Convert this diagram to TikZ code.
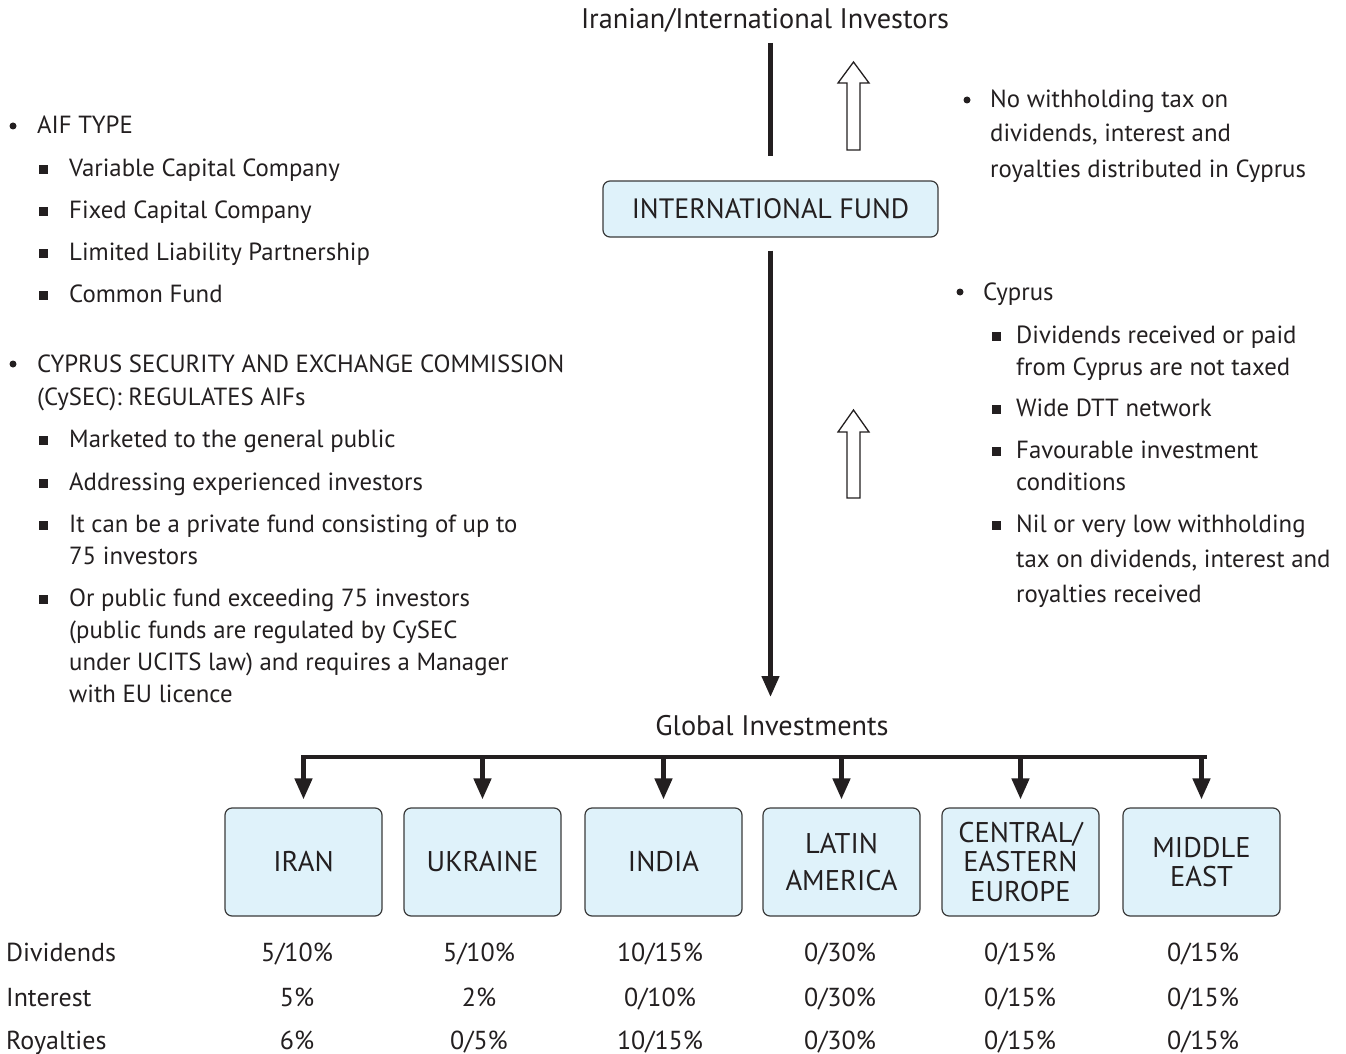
\documentclass[tikz,border=0pt]{standalone}
\usepackage{fontspec}
\setmainfont{PT Sans}
\usetikzlibrary{arrows.meta,calc}
\definecolor{ink}{HTML}{231F20}
\definecolor{boxfill}{HTML}{DFF2FA}
\definecolor{boxline}{HTML}{3A3A3A}
\tikzset{
  txt/.style={font=\fontsize{24.8}{28}\selectfont, text=ink, inner sep=0pt, anchor=base west},
  tab/.style={font=\fontsize{26}{28}\selectfont, text=ink, inner sep=0pt, anchor=base},
  tabl/.style={tab, anchor=base west},
  head/.style={font=\fontsize{28.3}{30}\selectfont, text=ink, inner sep=0pt, anchor=base},
  regbox/.style={draw=boxline, fill=boxfill, rounded corners=7pt, line width=1.2pt,
    minimum width=157pt, minimum height=108pt, align=center, inner sep=2pt,
    font=\fontsize{28.5}{29.5}\selectfont, text=ink},
  fundbox/.style={regbox, minimum width=335pt, minimum height=56pt, font=\fontsize{28}{30}\selectfont},
  thickline/.style={line width=4.5pt, draw=ink},
  hollow/.style={draw=ink, line width=1.3pt, fill=white, line join=miter},
  sq/.style={fill=ink, rectangle, minimum size=9pt, inner sep=0pt},
  dot/.style={circle, fill=ink, minimum size=7pt, inner sep=0pt},
  tip/.style={-{Triangle[width=17pt,length=21pt]}}
}
\begin{document}
\begin{tikzpicture}[x=1pt,y=-1pt]
\useasboundingbox (0,0) rectangle (1346,1054);

% top
\node[head] (inv) at (765,29) {Iranian/International Investors};
\node[fundbox] (fund) at (770.5,209) {INTERNATIONAL FUND};
\coordinate (topend) at (770.5,43);
\draw[thickline, shorten >=24pt] (topend) -- (fund.north);

\node[head] (gi) at (772,735) {Global Investments};
\draw[thickline, tip, shorten <=13pt] (fund.south) -- (fund.south |- 0,697);

% hollow arrows
\draw[hollow] (847,150) -- (847,83) -- (838,83) -- (853.5,62) -- (869,83) -- (860,83) -- (860,150) -- cycle;
\draw[hollow] (847,498) -- (847,432) -- (838,432) -- (853.5,410) -- (869,432) -- (860,432) -- (860,498) -- cycle;

% regional boxes
\node[regbox] (b1) at (303.5,862) {IRAN};
\node[regbox] (b2) at (482.5,862) {UKRAINE};
\node[regbox] (b3) at (663.5,862) {INDIA};
\node[regbox] (b4) at (841.5,862) {LATIN\\[7pt]AMERICA};
\node[regbox] (b5) at (1020.5,862) {CENTRAL/\\EASTERN\\EUROPE};
\node[regbox] (b6) at (1201.5,862) {MIDDLE\\EAST};

\coordinate (bar) at (0,757);
\draw[thickline, line cap=rect] (b1.north |- bar) -- ([xshift=3pt]b6.north |- bar);
\foreach \b in {b1,b2,b3,b4,b5,b6}{
  \draw[thickline, tip, shorten >=8pt] (\b.north |- bar) -- (\b.north);
}

% left list
\node[dot] (ld1) at (13,126) {};
\node[txt] (l1) at (37,134) {AIF TYPE};
\node[sq] (ls1) at (43,169) {};
\node[txt] (l2) at (69,176) {Variable Capital Company};
\node[sq] (ls2) at (43,211) {};
\node[txt] (l3) at (69,218) {Fixed Capital Company};
\node[sq] (ls3) at (43,253) {};
\node[txt] (l4) at (69,260) {Limited Liability Partnership};
\node[sq] (ls4) at (43,295) {};
\node[txt] (l5) at (69,302) {Common Fund};

\node[dot] (ld2) at (13,364) {};
\node[txt] (l6) at (37,372) {CYPRUS SECURITY AND EXCHANGE COMMISSION};
\node[txt] (l7) at (37,405) {(CySEC): REGULATES AIFs};
\node[sq] (ls5) at (43,440) {};
\node[txt] (l8) at (69,447) {Marketed to the general public};
\node[sq] (ls6) at (43,483) {};
\node[txt] (l9) at (69,490) {Addressing experienced investors};
\node[sq] (ls7) at (43,525) {};
\node[txt] (l10) at (69,532) {It can be a private fund consisting of up to};
\node[txt] (l11) at (69,564) {75 investors};
\node[sq] (ls8) at (43,599) {};
\node[txt] (l12) at (69,606) {Or public fund exceeding 75 investors};
\node[txt] (l13) at (69,638) {(public funds are regulated by CySEC};
\node[txt] (l14) at (69,670) {under UCITS law) and requires a Manager};
\node[txt] (l15) at (69,702) {with EU licence};

% right list
\node[dot] (rd1) at (967,100) {};
\node[txt] (r1) at (990,108) {No withholding tax on};
\node[txt] (r2) at (990,142) {dividends, interest and};
\node[txt] (r3) at (990,177) {royalties distributed in Cyprus};

\node[dot] (rd2) at (960,292) {};
\node[txt] (r4) at (983,300) {Cyprus};
\node[sq] (rs1) at (996,336) {};
\node[txt] (r5) at (1016,343) {Dividends received or paid};
\node[txt] (r6) at (1016,375) {from Cyprus are not taxed};
\node[sq] (rs2) at (996,409) {};
\node[txt] (r7) at (1016,416) {Wide DTT network};
\node[sq] (rs3) at (996,451) {};
\node[txt] (r8) at (1016,458) {Favourable investment};
\node[txt] (r9) at (1016,490) {conditions};
\node[sq] (rs4) at (996,525) {};
\node[txt] (r10) at (1016,532) {Nil or very low withholding};
\node[txt] (r11) at (1016,567) {tax on dividends, interest and};
\node[txt] (r12) at (1016,602) {royalties received};

% table
\node[tabl] (tD) at (6,961) {Dividends};
\node[tabl] (tI) at (6,1006) {Interest};
\node[tabl] (tR) at (6,1049) {Royalties};
\foreach \x/\d/\i/\r [count=\k] in {297/5\slash 10\%/5\%/6\%, 479/5\slash 10\%/2\%/0\slash 5\%, 660/10\slash 15\%/0\slash 10\%/10\slash 15\%, 840/0\slash 30\%/0\slash 30\%/0\slash 30\%, 1020/0\slash 15\%/0\slash 15\%/0\slash 15\%, 1203/0\slash 15\%/0\slash 15\%/0\slash 15\%}{
  \node[tab] (vd\k) at (\x,961) {\d};
  \node[tab] (vi\k) at (\x,1006) {\i};
  \node[tab] (vr\k) at (\x,1049) {\r};
}
\end{tikzpicture}
\end{document}
